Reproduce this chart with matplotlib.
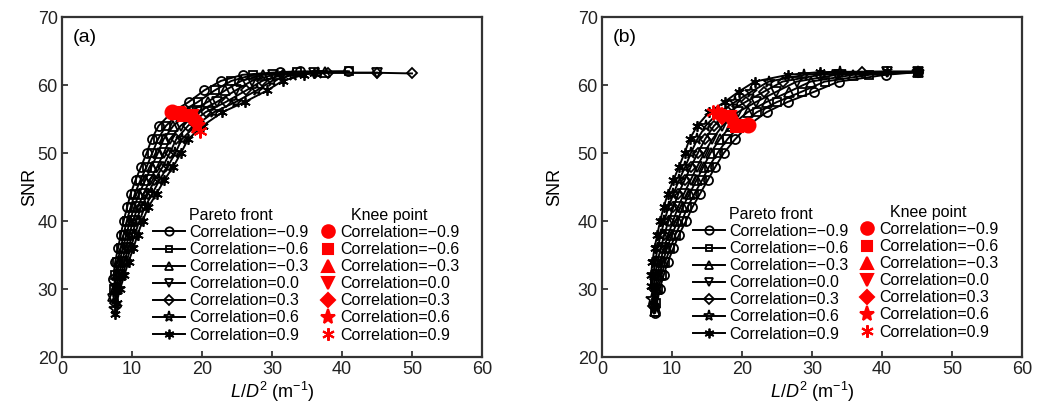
import matplotlib
matplotlib.use("Agg")
import matplotlib.pyplot as plt
from matplotlib.lines import Line2D

plt.rcParams['font.family'] = ['Liberation Sans', 'DejaVu Sans']
plt.rcParams['mathtext.fontset'] = 'custom'
plt.rcParams['mathtext.rm'] = 'Liberation Sans'
plt.rcParams['mathtext.it'] = 'Liberation Sans:italic'

correlations = ["\u22120.9", "\u22120.6", "\u22120.3", "0.0", "0.3", "0.6", "0.9"]

# ---------------- panel (a) ----------------
a_x_m09 = [7.3, 7.6, 8.0, 8.4, 8.8, 9.3, 9.8, 10.5, 11.3, 12.1, 12.8, 13.8, 15.7, 18.1, 20.3, 22.7, 25.8, 31.1, 34.0, 40.8]
a_y_m09 = [31.5, 34, 36, 38, 40, 42, 44, 46, 48, 50, 52, 54, 56, 57.5, 59.2, 60.6, 61.5, 61.9, 62.0, 62.0]
a_x_m06 = [7.4, 7.6, 7.9, 8.4, 8.8, 9.25, 9.8, 10.4, 11.2, 12.1, 12.9, 13.7, 14.85, 16.9, 19.4, 21.8, 24.2, 27.3, 33.5, 41.0]
a_y_m06 = [30.0, 32, 34, 36, 38, 40, 42, 44, 46, 48, 50, 52, 54, 56, 57.5, 59.2, 60.6, 61.5, 61.9, 62.0]
a_x_m03 = [7.3, 7.55, 7.8, 8.2, 8.7, 9.2, 9.7, 10.3, 11.0, 11.9, 12.8, 13.7, 14.5, 15.9, 18.1, 20.8, 23.3, 25.6, 28.7, 37.5]
a_y_m03 = [29.0, 30, 32, 34, 36, 38, 40, 42, 44, 46, 48, 50, 52, 54, 56, 57.5, 59.2, 60.6, 61.5, 61.9]
a_x_p00 = [7.3, 7.75, 8.1, 8.55, 9.1, 9.6, 10.15, 10.8, 11.65, 12.55, 13.6, 14.55, 15.4, 16.95, 19.3, 22.1, 24.8, 27.1, 30.2, 36.0, 45.0]
a_y_p00 = [28.5, 30, 32, 34, 36, 38, 40, 42, 44, 46, 48, 50, 52, 54, 56, 57.5, 59.2, 60.6, 61.5, 61.8, 61.8]
a_x_p03 = [7.5, 7.9, 8.4, 8.85, 9.5, 10.0, 10.6, 11.3, 12.3, 13.2, 14.4, 15.4, 16.3, 18.0, 20.5, 23.4, 26.3, 28.6, 31.6, 38.0, 45.0, 50.0]
a_y_p03 = [28.0, 30, 32, 34, 36, 38, 40, 42, 44, 46, 48, 50, 52, 54, 56, 57.5, 59.2, 60.6, 61.5, 61.8, 61.8, 61.7]
a_x_p06 = [7.6, 8.1, 8.65, 9.2, 9.8, 10.4, 11.05, 11.8, 12.9, 13.9, 15.1, 16.2, 17.1, 19.05, 21.7, 24.8, 27.8, 30.0, 33.0, 36.5]
a_y_p06 = [27.0, 30, 32, 34, 36, 38, 40, 42, 44, 46, 48, 50, 52, 54, 56, 57.5, 59.2, 60.6, 61.5, 61.8]
a_x_p09 = [7.6, 7.8, 8.3, 8.9, 9.5, 10.2, 10.8, 11.5, 12.3, 13.5, 14.6, 15.9, 17.0, 18.0, 20.1, 22.9, 26.1, 29.3, 31.5, 34.5, 36.0]
a_y_p09 = [26.3, 28, 30, 32, 34, 36, 38, 40, 42, 44, 46, 48, 50, 52, 54, 56, 57.5, 59.2, 60.6, 61.5, 61.8]
a_knee_x = [15.7, 16.6, 17.5, 18.4, 19.0, 19.3, 19.7]
a_knee_y = [56.1, 55.9, 55.7, 55.3, 54.8, 53.9, 53.2]

# ---------------- panel (b) ----------------
b_x_m09 = [7.6, 8.25, 8.8, 9.4, 10.2, 11.0, 12.0, 12.9, 14.0, 15.1, 16.2, 17.4, 19.0, 20.8, 23.5, 26.5, 30.3, 33.8, 40.5, 45.2]
b_y_m09 = [26.5, 30, 32, 34, 36, 38, 40, 42, 44, 46, 48, 50, 52, 54, 56, 57.5, 59, 60.5, 61.5, 61.9]
b_x_m06 = [7.6, 7.75, 8.04, 8.5, 9.03, 9.75, 10.5, 11.4, 12.2, 13.2, 14.3, 15.3, 16.5, 17.9, 19.6, 22.1, 25.0, 28.5, 31.8, 38.2, 45.2]
b_y_m06 = [26.6, 28, 30, 32, 34, 36, 38, 40, 42, 44, 46, 48, 50, 52, 54, 56, 57.5, 59, 60.5, 61.5, 61.9]
b_x_m03 = [7.5, 7.6, 7.8, 8.2, 8.67, 9.3, 10.0, 10.8, 11.5, 12.5, 13.5, 14.5, 15.5, 16.8, 18.4, 20.8, 23.5, 26.7, 29.8, 35.9, 45.2]
b_y_m03 = [26.8, 28, 30, 32, 34, 36, 38, 40, 42, 44, 46, 48, 50, 52, 54, 56, 57.5, 59, 60.5, 61.5, 61.9]
b_x_p00 = [7.4, 7.6, 7.9, 8.3, 8.85, 9.45, 10.15, 10.85, 11.7, 12.65, 13.6, 14.6, 15.75, 17.2, 19.4, 22.0, 24.9, 27.8, 33.5, 40.7, 45.2]
b_y_p00 = [27.0, 30, 32, 34, 36, 38, 40, 42, 44, 46, 48, 50, 52, 54, 56, 57.5, 59, 60.5, 61.5, 61.9, 61.9]
b_x_p03 = [7.3, 7.4, 7.6, 7.9, 8.4, 8.9, 9.5, 10.2, 10.9, 11.8, 12.7, 13.7, 14.7, 16.0, 18.0, 20.5, 23.1, 25.8, 31.2, 37.1, 45.2]
b_y_p03 = [27.5, 30, 32, 34, 36, 38, 40, 42, 44, 46, 48, 50, 52, 54, 56, 57.5, 59, 60.5, 61.5, 61.9, 61.9]
b_x_p06 = [7.2, 7.3, 7.6, 7.95, 8.4, 8.9, 9.5, 10.2, 11.0, 11.9, 12.7, 13.6, 14.8, 16.7, 19.0, 21.3, 23.8, 28.9, 34.0, 45.2]
b_y_p06 = [28.5, 32, 34, 36, 38, 40, 42, 44, 46, 48, 50, 52, 54, 56, 57.5, 59, 60.5, 61.5, 61.9, 61.9]
b_x_p09 = [7.0, 7.0, 7.2, 7.5, 7.9, 8.3, 8.8, 9.4, 10.2, 11.0, 11.8, 12.5, 13.6, 15.3, 17.5, 19.5, 21.8, 26.6, 31.1, 40.7, 45.2]
b_y_p09 = [30.5, 32, 34, 36, 38, 40, 42, 44, 46, 48, 50, 52, 54, 56, 57.5, 59, 60.5, 61.5, 61.9, 62.0, 62.0]
b_knee_x = [20.9, 19.3, 19.0, 18.2, 17.2, 16.6, 15.8]
b_knee_y = [54.1, 54.0, 54.8, 55.2, 55.5, 55.9, 56.1]

x_ticks = [0, 10, 20, 30, 40, 50, 60]
y_ticks = [20, 30, 40, 50, 60, 70]

markers = ['o', 's', '^', 'v', 'D', '*', (6, 2, 0)]
msizes = [6.5, 5.5, 6.5, 6.5, 5.5, 8.5, 7.5]
knee_sizes = [10, 8, 10, 10, 8, 12, 10]

W, H = 1037, 405
fig = plt.figure(figsize=(W / 100, H / 100), dpi=100)

panels = [
    dict(left=62, label='(a)', ylab_x=38,
         xs=[a_x_m09, a_x_m06, a_x_m03, a_x_p00, a_x_p03, a_x_p06, a_x_p09],
         ys=[a_y_m09, a_y_m06, a_y_m03, a_y_p00, a_y_p03, a_y_p06, a_y_p09],
         kx=a_knee_x, ky=a_knee_y,
         leg1=(153, 208), leg2=(320, 208)),
    dict(left=602, label='(b)', ylab_x=563,
         xs=[b_x_m09, b_x_m06, b_x_m03, b_x_p00, b_x_p03, b_x_p06, b_x_p09],
         ys=[b_y_m09, b_y_m06, b_y_m03, b_y_p00, b_y_p03, b_y_p06, b_y_p09],
         kx=b_knee_x, ky=b_knee_y,
         leg1=(693, 207), leg2=(859, 205)),
]

top, bottom = 17, 357
for p in panels:
    ax = fig.add_axes([p['left'] / W, (H - bottom) / H, 420 / W, (bottom - top) / H])
    for i in range(7):
        ax.plot(p['xs'][i], p['ys'][i], color='black', lw=1.4, marker=markers[i],
                ms=msizes[i], mfc='none', mec='black', mew=1.3, zorder=2)
    for i in range(7):
        ax.plot([p['kx'][i]], [p['ky'][i]], linestyle='none', marker=markers[i],
                ms=knee_sizes[i], color='red', mec='red', mew=1.5, zorder=3)
    ax.set_xlim(0, 60)
    ax.set_ylim(20, 70)
    ax.set_xticks(x_ticks)
    ax.set_yticks(y_ticks)
    ax.tick_params(direction='in', length=4, width=1.2, labelsize=13, colors='#222222', pad=3)
    for s in ax.spines.values():
        s.set_linewidth(1.6)
        s.set_color('#333333')
    ax.set_ylabel('SNR', fontsize=13)
    ax.yaxis.set_label_coords((p['ylab_x'] - p['left']) / 420, 0.5)
    ax.set_xlabel(r'$L/D^2$ (m$^{-1}$)', fontsize=13, labelpad=1)
    ax.text(0.025, 0.965, p['label'], transform=ax.transAxes, fontsize=14, va='top', ha='left')

    h1 = [Line2D([], [], color='black', lw=1.4, marker=markers[i], ms=msizes[i] - 0.5,
                 mfc='none', mec='black', mew=1.3) for i in range(7)]
    h2 = [Line2D([], [], linestyle='none', marker=markers[i], ms=knee_sizes[i] - 1,
                 color='red', mec='red', mew=1.5) for i in range(7)]
    labels = ['Correlation=' + c for c in correlations]
    common = dict(frameon=False, fontsize=11.5, title_fontsize=11.5, loc='upper left',
                  bbox_transform=fig.transFigure, borderpad=0, borderaxespad=0,
                  labelspacing=0.13, handletextpad=0.25)
    l1 = ax.legend(h1, labels, title='Pareto front', handlelength=2.0,
                   bbox_to_anchor=(p['leg1'][0] / W, 1 - p['leg1'][1] / H), **common)
    ax.add_artist(l1)
    l2 = ax.legend(h2, labels, title='Knee point', handlelength=1.0,
                   bbox_to_anchor=(p['leg2'][0] / W, 1 - p['leg2'][1] / H), **common)

fig.savefig('out.png', dpi=100)
